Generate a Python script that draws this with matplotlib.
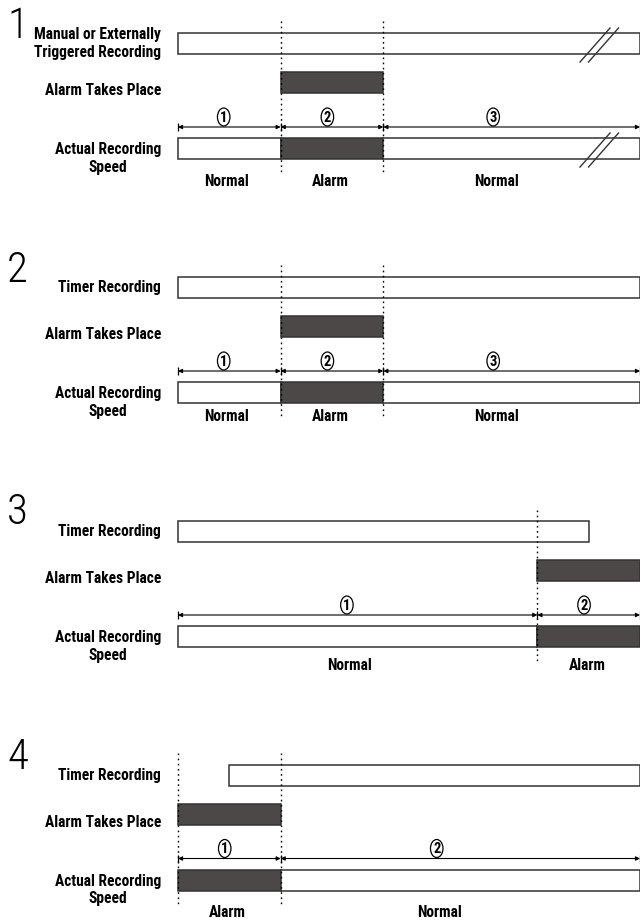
import matplotlib
matplotlib.use('Agg')
import matplotlib.pyplot as plt
from matplotlib.patches import Rectangle, Ellipse

plt.rcParams['font.family'] = ['Roboto Condensed', 'DejaVu Sans']

# time axis: 0 = start of the bars, 9 = right edge of the page
panel_ids = ['1', '2', '3', '4']
rec_labels = ['Manual or Externally\nTriggered Recording', 'Timer Recording',
              'Timer Recording', 'Timer Recording']
alarm_label = 'Alarm Takes Place'
speed_label = 'Actual Recording\nSpeed'

rec_start = [0, 0, 0, 1]
rec_end = [9, 9, 8, 9]
alarm_start = [2, 2, 7, 0]
alarm_end = [4, 4, 9, 2]

# actual recording speed: segment edges, modes and where the mode text sits
speed_edges = [[0, 2, 4, 9], [0, 2, 4, 9], [0, 7, 9], [0, 2, 9]]
speed_modes = [['Normal', 'Alarm', 'Normal'], ['Normal', 'Alarm', 'Normal'],
               ['Normal', 'Alarm'], ['Alarm', 'Normal']]
mode_pos = [[0.95, 2.97, 6.2], [0.95, 2.97, 6.2], [3.35, 7.97], [0.97, 5.1]]
broken = [True, False, False, False]

DARK = '#4b4847'
EDGE = '#333333'

# layout (pixels)
panel_y = [43.5, 287.5, 531.5, 775]
num_y = [26, 270, 512, 757]
label_dy = [137.5, 128.5, 134, 137]
bar_h = 21
px = 51.33  # pixels per time unit
x0 = -178 / px

fig = plt.figure(figsize=(6.4, 9.22), dpi=100)
ax = fig.add_axes([0, 0, 1, 1])
ax.set_xlim(x0, 9.0)
ax.set_ylim(922, 0)
ax.axis('off')

lab_x = -17 / px
FS = 11.2


def bar(x1, x2, yc, fill):
    ax.add_patch(Rectangle((x1, yc - bar_h / 2), x2 - x1, bar_h, facecolor=fill,
                           edgecolor=EDGE, lw=1.1, zorder=3))


def circled(x, y, s):
    ax.add_patch(Ellipse((x, y), 12.5 / px, 18, facecolor='white', edgecolor='black',
                         lw=0.9, zorder=4))
    ax.text(x, y + 0.5, s, ha='center', va='center', fontsize=10.5, fontweight='bold', zorder=5)


for i in range(4):
    y0 = panel_y[i]
    ya = y0 + 39
    yr = y0 + 83.5
    ys = y0 + 105

    ax.text(7 / px + x0, num_y[i], panel_ids[i], ha='left', va='center', fontsize=31,
            fontweight='light')

    # row labels
    ax.text(lab_x, y0, rec_labels[i], ha='right', va='center', fontsize=FS,
            fontweight='bold', linespacing=1.2)
    ax.text(lab_x, ya + 8, alarm_label, ha='right', va='center', fontsize=FS,
            fontweight='bold')
    ax.text(lab_x, ys + 10, speed_label, ha='right', va='center', fontsize=FS,
            fontweight='bold', linespacing=1.2, multialignment='center')

    # recording and alarm bars
    bar(rec_start[i], rec_end[i], y0, 'white')
    bar(alarm_start[i], alarm_end[i], ya, DARK)

    # actual speed bar
    edges = speed_edges[i]
    for k, mode in enumerate(speed_modes[i]):
        bar(edges[k], edges[k + 1], ys, DARK if mode == 'Alarm' else 'white')
        ax.text(mode_pos[i][k], y0 + label_dy[i], mode, ha='center', va='center',
                fontsize=FS, fontweight='bold')
        # dimension arrows
        ax.annotate('', xy=(edges[k + 1], yr), xytext=(edges[k], yr),
                    arrowprops=dict(arrowstyle='<|-|>', mutation_scale=6, lw=0.8,
                                    shrinkA=0, shrinkB=0, color='black'), zorder=4)
        circled(mode_pos[i][k] - 0.06, yr - 10, str(k + 1))
    ax.plot(edges, [yr] * len(edges), '|', color='black', ms=6, mew=0.9, zorder=4)

    # dotted guide lines at alarm edges
    for xe in (alarm_start[i], alarm_end[i]):
        if xe < 9:
            ax.plot([xe, xe], [y0 - 22, y0 + 131], color='black', lw=1,
                    ls=(0, (1.2, 2.5)), zorder=5)

    if broken[i]:
        for yc in (y0, ys):
            for dx in (0, 8.5):
                ax.plot([(580 + dx - 178) / px, (610 + dx - 178) / px],
                        [yc + 18.5, yc - 15.5], color=EDGE, lw=1, zorder=6)

fig.savefig('out.png', dpi=100)
